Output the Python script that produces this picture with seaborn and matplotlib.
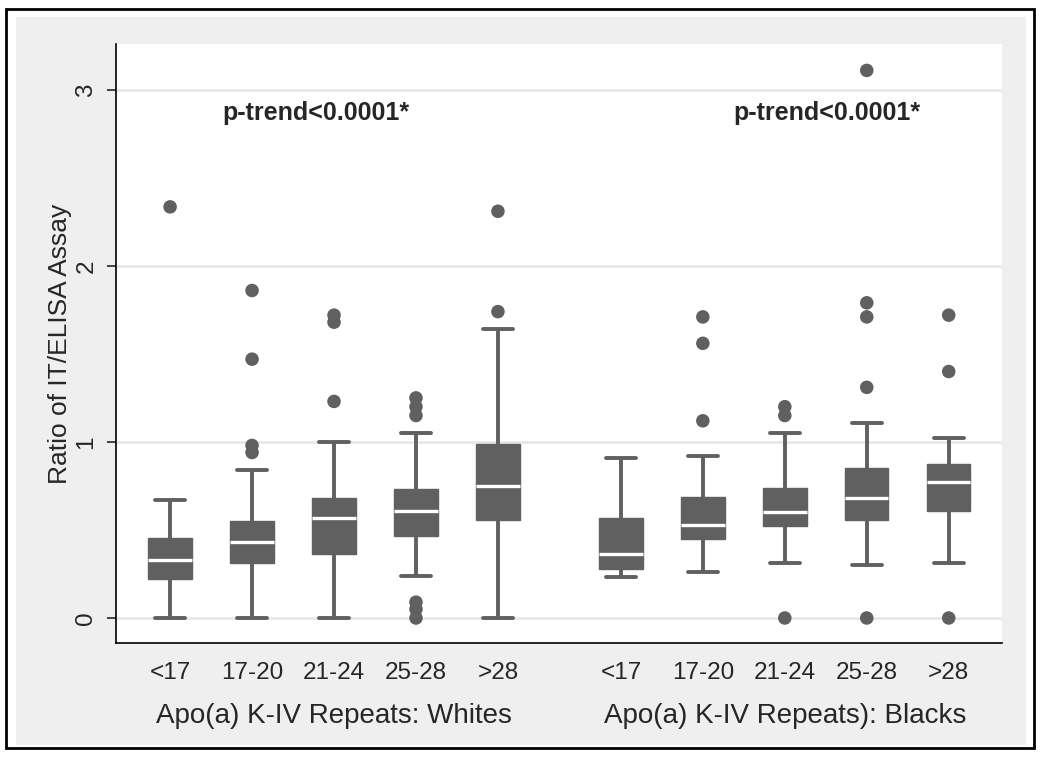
import numpy as np
import pandas as pd
import seaborn as sns
import matplotlib.pyplot as plt
from matplotlib.patches import Rectangle
from matplotlib.transforms import blended_transform_factory

# categories (K-IV repeat groups)
cats = ['<17', '17-20', '21-24', '25-28', '>28']

## Whites: box summary (low whisker, q1, median, q3, high whisker)
white_lo = [0.0, 0.0, 0.0, 0.24, 0.0]
white_q1 = [0.22, 0.31, 0.365, 0.465, 0.555]
white_med = [0.33, 0.43, 0.57, 0.61, 0.75]
white_q3 = [0.455, 0.55, 0.68, 0.73, 0.99]
white_hi = [0.67, 0.84, 1.0, 1.05, 1.64]
white_out = [[2.335], [1.86, 1.47, 0.98, 0.94], [1.72, 1.68, 1.23],
             [1.25, 1.20, 1.15, 0.09, 0.05, 0.0], [2.31, 1.74]]

## Blacks
black_lo = [0.235, 0.26, 0.31, 0.30, 0.31]
black_q1 = [0.28, 0.45, 0.52, 0.555, 0.61]
black_med = [0.365, 0.53, 0.60, 0.68, 0.77]
black_q3 = [0.57, 0.69, 0.74, 0.85, 0.875]
black_hi = [0.91, 0.92, 1.05, 1.11, 1.02]
black_out = [[], [1.71, 1.56, 1.12], [1.20, 1.15, 0.0],
             [3.11, 1.79, 1.71, 1.31, 0.0], [1.72, 1.40, 0.0]]

group_labels = ['Apo(a) K-IV Repeats: Whites', 'Apo(a) K-IV Repeats): Blacks']
p_text = 'p-trend<0.0001*'

# positions: two groups of five with a gap
white_pos = [0, 1, 2, 3, 4]
black_pos = [5.5, 6.5, 7.5, 8.5, 9.5]

# long table of the five summary numbers per box
rows = []
for pos, lo, q1, md, q3, hi in zip(white_pos + black_pos,
                                   white_lo + black_lo, white_q1 + black_q1,
                                   white_med + black_med, white_q3 + black_q3,
                                   white_hi + black_hi):
    for v in (lo, q1, md, q3, hi):
        rows.append({'pos': pos, 'value': v})
box_df = pd.DataFrame(rows)

out_rows = []
for pos, vals in zip(white_pos + black_pos, white_out + black_out):
    for v in vals:
        out_rows.append({'pos': pos, 'value': v})
out_df = pd.DataFrame(out_rows)

sns.set_style('white')
plt.rcParams['font.family'] = ['Liberation Sans', 'DejaVu Sans']

grey = '#606060'

fig = plt.figure(figsize=(10.5, 7.57), dpi=100, facecolor='white')
W, H = 1050, 757
fig.patches.append(Rectangle((16 / W, 1 - 745 / H), 1010 / W, 728 / H,
                             transform=fig.transFigure, facecolor='#efefef',
                             edgecolor='none', zorder=-5))
fig.patches.append(Rectangle((6 / W, 1 - 748 / H), 1028 / W, 739 / H,
                             transform=fig.transFigure, facecolor='none',
                             edgecolor='black', linewidth=2, zorder=-4))

ax = fig.add_axes([116 / W, 1 - 643 / H, 886 / W, 599 / H])
ax.set_facecolor('white')

sns.boxplot(data=box_df, x='pos', y='value', native_scale=True, whis=(0, 100),
            width=0.53, color=grey, linecolor=grey, saturation=1,
            linewidth=2.8, fliersize=0, ax=ax, capwidths=0.37,
            medianprops={'color': 'white', 'linewidth': 2.4},
            boxprops={'edgecolor': grey, 'linewidth': 1})

sns.scatterplot(data=out_df, x='pos', y='value', color=grey, s=95,
                edgecolor='none', legend=False, ax=ax, zorder=4)

ax.set_xlim(-0.66, 10.15)
ax.set_ylim(-0.142, 3.26)
ax.set_yticks([0, 1, 2, 3])
ax.set_yticklabels(['0', '1', '2', '3'], rotation=90, va='center', fontsize=17.5)
ax.set_xticks(white_pos + black_pos)
ax.set_xticklabels(cats + cats, fontsize=17.5)
ax.tick_params(axis='x', length=0, pad=14)
ax.tick_params(axis='y', direction='out', length=6.5, width=1.2, pad=7, left=True)

ax.yaxis.grid(True, color='#e6e6e6', linewidth=1.8)
ax.xaxis.grid(False)
ax.set_axisbelow(True)

for side in ['top', 'right']:
    ax.spines[side].set_visible(False)
for side in ['left', 'bottom']:
    ax.spines[side].set_color('black')
    ax.spines[side].set_linewidth(1.2)

ax.set_xlabel('')
ax.set_ylabel('Ratio of IT/ELISA Assay', fontsize=19, labelpad=2)

trans = blended_transform_factory(ax.transData, ax.transAxes)
ax.text(2.0, -0.122, group_labels[0], transform=trans, ha='center', va='center',
        fontsize=20)
ax.text(7.5, -0.122, group_labels[1], transform=trans, ha='center', va='center',
        fontsize=20)

ax.text(1.78, 2.87, p_text, ha='center', va='center', fontsize=18,
        fontweight='bold')
ax.text(8.01, 2.87, p_text, ha='center', va='center', fontsize=18,
        fontweight='bold')

plt.savefig('out.png', dpi=100, facecolor=fig.get_facecolor())
